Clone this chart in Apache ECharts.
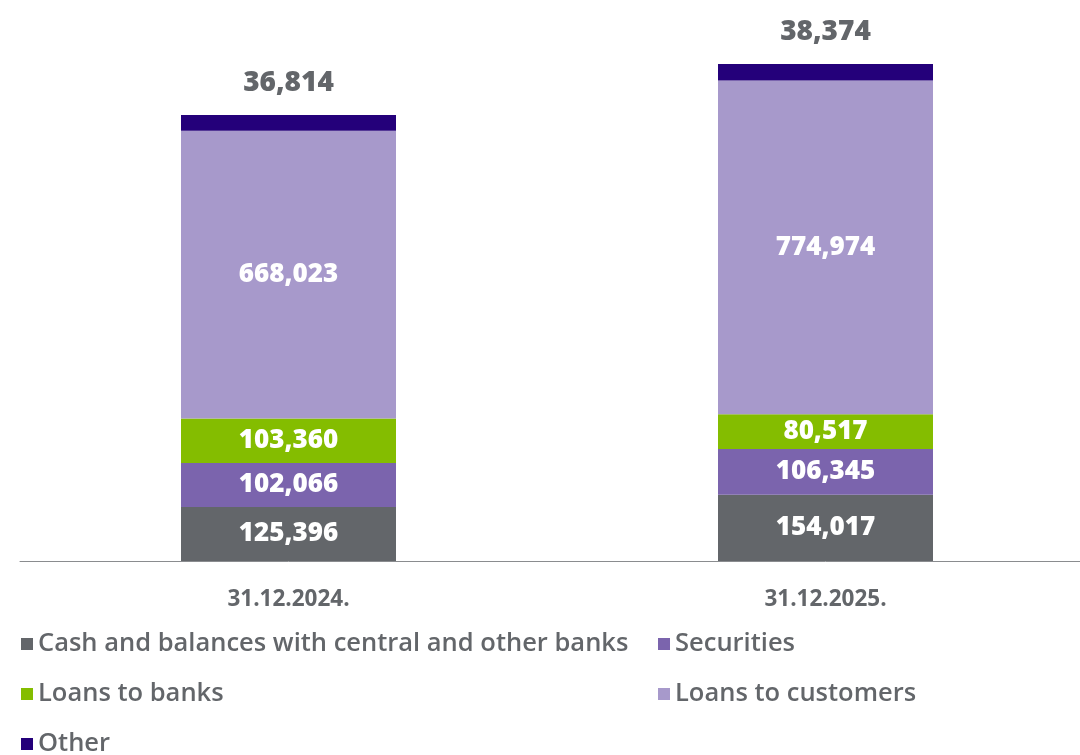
<!DOCTYPE html>
<html>
<head>
<meta charset="utf-8">
<script src="https://cdn.jsdelivr.net/npm/echarts@6/dist/echarts.min.js"></script>
<style>
  html, body { margin: 0; padding: 0; background: #ffffff; overflow: hidden; }
  #chart { width: 1094px; height: 755px; }
</style>
</head>
<body>
<div id="chart"></div>
<script>
// Asset structure at year end (stacked)
const categories = ['31.12.2024.', '31.12.2025.'];
const cashBalances = [125396, 154017];
const securities = [102066, 106345];
const loansToBanks = [103360, 80517];
const loansToCustomers = [668023, 774974];
const other = [36814, 38374];

const FONT = '"Open Sans"';
const GREY = '#63666a';

const fmt = v => v.toLocaleString('en-US');

function seg(name, data, color, inside) {
  return {
    name: name,
    type: 'bar',
    stack: 'assets',
    barWidth: 215,
    data: data,
    itemStyle: { color: color },
    label: inside ? {
      show: true,
      position: 'inside',
      color: '#ffffff',
      fontFamily: FONT,
      fontWeight: 800,
      fontSize: 26,
      formatter: p => fmt(p.value)
    } : {
      show: true,
      position: 'top',
      distance: 18,
      color: GREY,
      fontFamily: FONT,
      fontWeight: 800,
      fontSize: 28,
      formatter: p => fmt(p.value)
    }
  };
}

const legendText = { color: GREY, fontFamily: FONT, fontWeight: 600, fontSize: 25.5 };

// one legend entry per slot, laid out as a two-column list
function legendItem(name, left, top) {
  return {
    left: left, top: top, padding: 0,
    icon: 'rect', itemWidth: 12, itemHeight: 12, itemGap: 0,
    textStyle: legendText,
    data: [name]
  };
}

const chart = echarts.init(document.getElementById('chart'));
chart.setOption({
  animation: false,
  grid: { left: 20, top: 22.7, width: 1074, height: 538.3, containLabel: false },
  legend: [
    legendItem('Cash and balances with central and other banks', 21, 631),
    legendItem('Securities', 658, 631),
    legendItem('Loans to banks', 21, 681),
    legendItem('Loans to customers', 658, 681),
    legendItem('Other', 21, 731)
  ],
  xAxis: {
    type: 'category',
    data: categories,
    axisTick: { show: false },
    axisLine: { lineStyle: { color: '#8a8c8f', width: 1 } },
    axisLabel: { color: GREY, fontFamily: FONT, fontWeight: 700, fontSize: 22.5, margin: 27 }
  },
  yAxis: {
    type: 'value',
    min: 0,
    max: 1250000,
    show: false,
    splitLine: { show: false }
  },
  series: [
    seg('Cash and balances with central and other banks', cashBalances, '#63666a', true),
    seg('Securities', securities, '#7b64ad', true),
    seg('Loans to banks', loansToBanks, '#84bd00', true),
    seg('Loans to customers', loansToCustomers, '#a799cb', true),
    seg('Other', other, '#24007a', false)
  ]
});
</script>
</body>
</html>
